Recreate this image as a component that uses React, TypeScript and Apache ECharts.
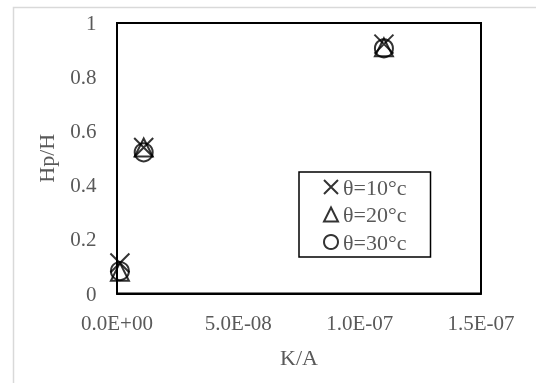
import React, { useEffect, useRef } from "react";
import * as echarts from "echarts";

// Hp/H against K/A for three temperatures
const seriesNames = ["θ=10°c", "θ=20°c", "θ=30°c"];
const kaValues = [1.2e-9, 1.1e-8, 1.1e-7];
const hp10 = [0.113, 0.54, 0.922];
const hp20 = [0.08, 0.54, 0.91];
const hp30 = [0.083, 0.522, 0.906];

const xTickMin = 0;
const xTickMax = 1.5e-7;
const xTickStep = 5e-8;

const FONT = "Times New Roman";
const TEXT = "#595959";
const crossIcon = "path://M0,0L10,10M10,0L0,10";

function sci(v: number): string {
  const [m, e] = v.toExponential(1).split("e");
  const n = parseInt(e, 10);
  const sign = n < 0 ? "-" : "+";
  const abs = Math.abs(n);
  return `${m}E${sign}${abs < 10 ? "0" + abs : abs}`;
}

function pairs(ys: number[]): number[][] {
  return kaValues.map((x, i) => [x, ys[i]]);
}

export default function App() {
  const ref = useRef<HTMLDivElement>(null);

  useEffect(() => {
    if (!ref.current) return;
    const chart = echarts.init(ref.current, null, { renderer: "svg" });
    const hollow = () => ({ color: "rgba(0,0,0,0)", borderColor: "#000", borderWidth: 2 });

    chart.setOption({
      animation: false,
      graphic: [
        {
          type: "rect",
          shape: { x: 13.5, y: 7.5, width: 524.5, height: 377.5 },
          style: { fill: "none", stroke: "#d9d9d9", lineWidth: 1.5 },
          silent: true,
        },
      ],
      grid: { left: 117, right: 55, top: 23, bottom: 89.5, show: true, borderColor: "#000", borderWidth: 2 },
      legend: {
        orient: "vertical",
        left: 299,
        top: 172,
        data: seriesNames,
        borderColor: "#000",
        borderWidth: 1.5,
        padding: [4, 24, 4, 24],
        itemWidth: 14,
        itemHeight: 14,
        itemGap: 5.5,
        itemTextGap: 4,
        textStyle: { fontFamily: FONT, fontSize: 22, color: TEXT },
      },
      xAxis: {
        type: "value",
        min: xTickMin,
        max: xTickMax,
        interval: xTickStep,
        name: "K/A",
        nameLocation: "middle",
        nameGap: 53,
        nameTextStyle: { fontFamily: FONT, fontSize: 22, color: TEXT },
        axisLine: { show: true, lineStyle: { color: "#000", width: 2 } },
        axisTick: { show: false },
        splitLine: { show: false },
        axisLabel: { fontFamily: FONT, fontSize: 21, color: TEXT, margin: 19, formatter: (v: number) => sci(v) },
      },
      yAxis: {
        type: "value",
        min: 0,
        max: 1,
        interval: 0.2,
        name: "Hp/H",
        nameLocation: "middle",
        nameGap: 60,
        nameTextStyle: { fontFamily: FONT, fontSize: 22, color: TEXT },
        axisLine: { show: true, lineStyle: { color: "#000", width: 2 } },
        axisTick: { show: false },
        splitLine: { show: false },
        axisLabel: {
          fontFamily: FONT,
          fontSize: 21,
          color: TEXT,
          margin: 20.5,
          formatter: (v: number) => String(Math.round(v * 10) / 10),
        },
      },
      series: [
        { name: seriesNames[0], type: "scatter", symbol: crossIcon, symbolSize: 19, itemStyle: hollow(), data: pairs(hp10) },
        { name: seriesNames[1], type: "scatter", symbol: "triangle", symbolSize: 18, itemStyle: hollow(), data: pairs(hp20) },
        { name: seriesNames[2], type: "scatter", symbol: "circle", symbolSize: 18, itemStyle: hollow(), data: pairs(hp30) },
      ],
    });

    return () => chart.dispose();
  }, []);

  return <div ref={ref} style={{ position: "fixed", left: 0, top: 0, width: 536, height: 383 }} />;
}
